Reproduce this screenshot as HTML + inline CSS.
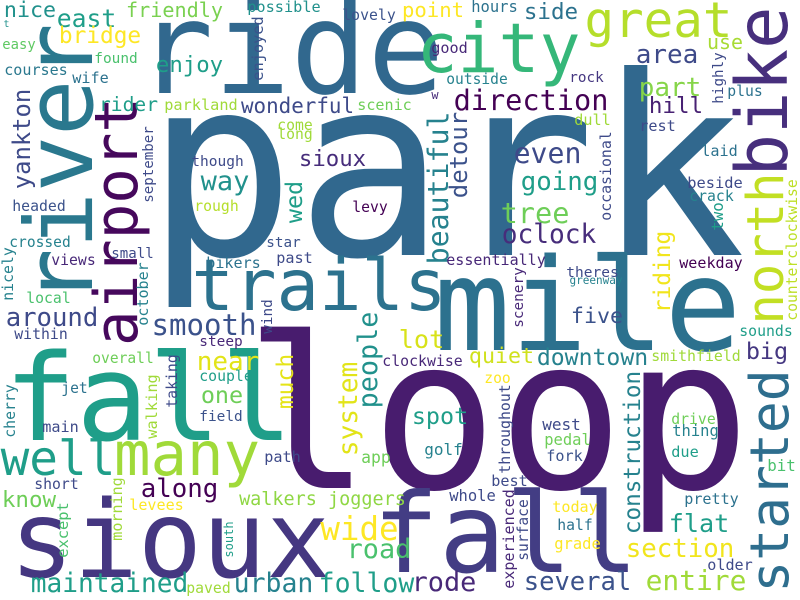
<!DOCTYPE html>
<html>
<head>
<meta charset="utf-8">
<style>
html,body{margin:0;padding:0;background:#fff;}
#cloud{display:block;width:800px;height:600px;}
text{font-family:"DejaVu Sans Mono","Liberation Mono",monospace;}
</style>
</head>
<body>
<svg id="cloud" width="800" height="600" viewBox="0 0 800 600" xmlns="http://www.w3.org/2000/svg">
<rect width="800" height="600" fill="#ffffff"/>
<g id="words"></g>
</svg>
<script>
// word, ink-left x (or baseline x for vertical), baseline y (or bottom y for vertical), ink length, rotated, colour
const words = ["park","ride","city","great","river","airport","bike","north","trails","mile","loop","fall","fall","sioux","started","many","well","nice","east","friendly","bridge","t","easy","found","enjoy","courses","wife","rider","parkland","wonderful","scenic","yankton","way","sioux","enjoyed","possible","lovely","point","hours","side","area","use","good","outside","rock","part","direction","hill","highly","plus","w","dull","rest","beautiful","detour","even","going","tree","oclock","occasional","laid","beside","crack","two","counterclockwise","riding","essentially","weekday","theres","greenway","scenery","five","lot","quiet","downtown","smithfield","sounds","big","clockwise","zoo","spot","throughout","construction","golf","west","pedal","fork","drive","thing","due","bit","best","whole","experienced","surface","today","pretty","half","grade","flat","section","older","entire","several","rode","local","around","within","october","smooth","wind","steep","overall","taking","near","couple","one","much","system","people","jet","cherry","walking","field","main","short","along","know","morning","levees","walkers joggers","wide","road","except","south","maintained","paved","urban","follow","app","path","headed","september","come","long","though","wed","rough","levy","crossed","star","nicely","views","small","past","bikers"];
const xs = [158,143,420,587,92,137,787,783,195,440,255,10,378,15,788,117,3,5,58,127,60,4,3,95,157,5,73,100,165,242,358,30,202,300,263,248,343,403,472,525,637,708,432,447,570,640,455,650,723,728,432,575,640,448,467,515,522,502,503,611,702,688,690,723,797,670,447,680,567,570,523,572,400,470,538,652,740,747,383,485,413,510,640,425,543,545,547,672,673,672,768,492,450,514,528,553,685,558,555,670,627,708,647,525,413,27,7,15,148,153,272,200,93,177,198,200,202,293,357,377,62,15,157,200,43,35,142,3,122,130,240,322,348,68,233,32,187,235,320,362,265,13,153,278,278,192,302,195,353,10,267,13,52,112,277,207];
const ys = [255,93,72,37,300,343,173,322,310,350,488,440,572,577,590,475,475,17,27,17,43,27,49,63,72,75,83,111,110,113,110,188,190,166,80,12,20,17,12,19,63,49,53,84,82,96,110,113,103,96,99,125,131,263,197,163,190,223,243,220,156,188,201,230,320,312,265,268,277,284,327,323,348,363,365,361,336,359,366,383,424,473,533,455,430,445,461,424,436,457,471,486,501,588,560,512,504,530,549,532,557,570,590,590,591,303,326,339,325,335,333,346,363,407,370,381,403,408,455,407,393,437,438,421,432,489,497,507,540,510,505,540,558,557,557,592,593,592,592,463,462,211,202,130,139,166,222,211,212,247,247,300,265,258,263,268];
const lens = [575,295,157,143,272,243,163,147,248,295,485,277,255,310,218,140,110,50,57,95,80,5,32,42,65,62,35,57,72,111,53,98,46,65,63,72,52,60,45,52,60,34,35,60,33,60,152,52,50,34,6,35,35,150,84,65,75,66,92,88,35,54,43,27,140,80,98,62,51,52,59,50,43,63,109,88,52,40,79,25,54,88,161,37,37,45,35,43,45,26,27,35,45,98,60,44,53,34,45,58,106,44,98,105,62,43,90,52,62,102,33,42,60,52,60,52,40,53,92,94,25,52,63,42,35,43,75,52,62,53,165,75,62,54,35,155,43,77,93,28,35,52,75,34,34,51,40,43,34,60,33,52,43,41,35,53];
const rots = [0,0,0,0,1,1,1,1,0,0,0,0,0,0,1,0,0,0,0,0,0,0,0,0,0,0,0,0,0,0,0,1,0,0,1,0,0,0,0,0,0,0,0,0,0,0,0,0,1,0,0,0,0,1,1,0,0,0,0,1,0,0,0,1,1,1,0,0,0,0,1,0,0,0,0,0,0,0,0,0,0,1,1,0,0,0,0,0,0,0,0,0,0,1,1,0,0,0,0,0,0,0,0,0,0,0,0,0,1,0,1,0,0,1,0,0,0,1,1,1,0,1,1,0,0,0,0,0,1,0,0,0,0,1,1,0,0,0,0,0,0,0,1,0,0,0,1,0,0,0,0,1,0,0,0,0];
const colors = ["#31688e","#31688e","#35b779","#b5de2b","#2a788e","#46085c","#472f7d","#c2df23","#2c728e","#2c718e","#481c6e","#1f9e89","#433d84","#453781","#2e6e8e","#a0da39","#1f9e89","#21918c","#1f9e89","#7ad151","#fde725","#21918c","#5ec962","#4ac16d","#1f9e89","#2a788e","#2c728e","#1f9e89","#a0da39","#3e4a89","#6ece58","#3e4a89","#21918c","#472d7b","#3b528b","#21918c","#3b528b","#fde725","#2c728e","#2c728e","#3e4a89","#a8db34","#482878","#26828e","#453781","#86d549","#440154","#482173","#3e4a89","#2c728e","#472c7a","#a0da39","#3e4a89","#26828e","#3b528b","#3e4a89","#1f9e89","#6ece58","#472d7b","#3e4a89","#2c728e","#3e4a89","#26828e","#1f9e89","#bddf26","#f1e51d","#482878","#440154","#3e4a89","#26828e","#482878","#3b528b","#d8e219","#d0e11c","#26828e","#a0da39","#1f9e89","#453781","#482878","#fde725","#1f9e89","#3e4a89","#26828e","#26828e","#3e4a89","#6ece58","#3b528b","#6ece58","#26828e","#1f9e89","#4ac16d","#3e4a89","#3e4a89","#482878","#3e4a89","#fde725","#2c728e","#2c728e","#fde725","#1f9e89","#f1e51d","#3e4a89","#a0da39","#3b528b","#482878","#4ac16d","#3e4a89","#3e4a89","#26828e","#3b528b","#3e4a89","#482878","#6ece58","#3e4a89","#e2e418","#1f9e89","#6ece58","#e5e419","#e2e418","#21918c","#2c728e","#26828e","#a0da39","#3b528b","#3e4a89","#3e4a89","#440154","#6ece58","#a0da39","#fde725","#8fd744","#fde725","#4ac16d","#4ac16d","#1f9e89","#1f9e89","#a0da39","#26828e","#1f9e89","#6ece58","#3e4a89","#3b528b","#3e4a89","#a0da39","#a0da39","#3e4a89","#1f9e89","#b5de2b","#440154","#26828e","#3b528b","#26828e","#482878","#3e4a89","#3e4a89","#2c728e"];

const NS = "http://www.w3.org/2000/svg";
const group = document.getElementById("words");
for (let i = 0; i < words.length; i++) {
  const w = words[i];
  const n = w.length;
  const size = lens[i] / Math.max(0.5, 0.6 * n - 0.1);
  const tl = lens[i] + 0.1 * size;
  const t = document.createElementNS(NS, "text");
  
  
  t.setAttribute("font-size", size.toFixed(2));
  t.setAttribute("fill", colors[i]);
  t.setAttribute("textLength", tl.toFixed(2));
  t.setAttribute("lengthAdjust", "spacingAndGlyphs");
  if (rots[i]) {
    t.setAttribute("transform", "translate(" + xs[i] + "," + ys[i] + ") rotate(-90)");
    t.setAttribute("x", (-0.05 * size).toFixed(2));
    t.setAttribute("y", "0");
  } else {
    t.setAttribute("x", (xs[i] - 0.05 * size).toFixed(2));
    t.setAttribute("y", ys[i]);
  }
  t.textContent = w;
  group.appendChild(t);
}
</script>
</body>
</html>
